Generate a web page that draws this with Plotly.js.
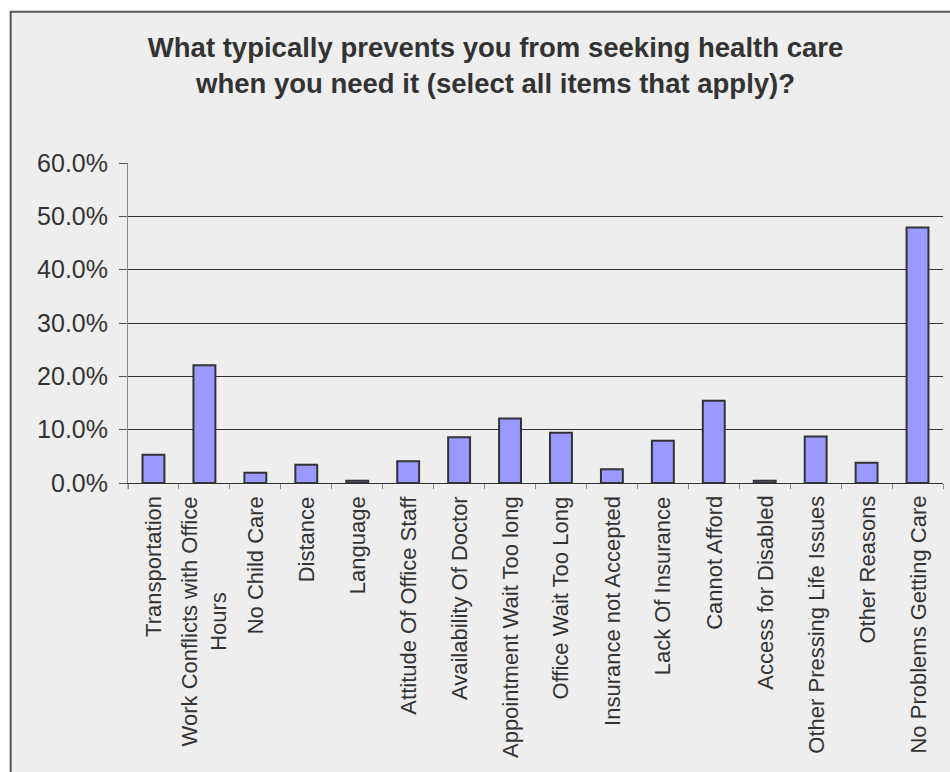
<!DOCTYPE html>
<html>
<head>
<meta charset="utf-8">
<script src="https://cdn.plot.ly/plotly-3.0.1.min.js"></script>
<style>
  html, body { margin: 0; padding: 0; background: #ffffff; }
  #chart { width: 950px; height: 772px; }
</style>
</head>
<body>
<div id="chart"></div>
<script>
const categories = [
  "Transportation",
  "Work Conflicts with Office<br>Hours",
  "No Child Care",
  "Distance",
  "Language",
  "Attitude Of Office Staff",
  "Availability Of Doctor",
  "Appointment Wait Too long",
  "Office Wait Too Long",
  "Insurance not Accepted",
  "Lack Of Insurance",
  "Cannot Afford",
  "Access for Disabled",
  "Other Pressing Life Issues",
  "Other Reasons",
  "No Problems Getting Care"
];
const percentValues = [5.3, 22.1, 1.9, 3.4, 0.4, 4.1, 8.6, 12.1, 9.4, 2.6, 7.9, 15.4, 0.4, 8.7, 3.8, 47.9];
const yTickValues = [0, 10, 20, 30, 40, 50, 60];
const yTickLabels = ["0.0%", "10.0%", "20.0%", "30.0%", "40.0%", "50.0%", "60.0%"];
const chartTitle = "What typically prevents you from seeking health care<br>when you need it (select all items that apply)?";

const trace = {
  type: "bar",
  x: categories,
  y: percentValues,
  marker: { color: "#9999ff", line: { color: "#333333", width: 2 } },
  hoverinfo: "x+y"
};

const L = 127.5, R = 943.5, T = 163.3, B = 483.3;
const W = 950, H = 772;
const pw = R - L, ph = B - T;

const labelAnnotations = categories.map(c => ({
  x: c, y: 0, xref: "x", yref: "y",
  text: c, showarrow: false,
  textangle: -90,
  xanchor: "center", yanchor: "top", align: "center",
  yshift: -11,
  font: { family: "Liberation Sans, Arial, sans-serif", size: 22, color: "#333333" }
}));

const layout = {
  width: W, height: H,
  margin: { l: L, r: W - R, t: T, b: H - B, pad: 0 },
  paper_bgcolor: "#ffffff",
  plot_bgcolor: "rgba(0,0,0,0)",
  font: { family: "Liberation Sans, Arial, sans-serif", color: "#333333" },
  showlegend: false,
  bargap: 0.57,
  title: {
    text: chartTitle,
    font: { family: "Liberation Sans, Arial, sans-serif", size: 27.5, color: "#333333", weight: "bold" },
    xref: "paper", x: (495.5 - L) / pw, xanchor: "center",
    yref: "container", y: 1 - 57 / H, yanchor: "top"
  },
  xaxis: {
    type: "category",
    showgrid: false,
    showline: true, linecolor: "#333333", linewidth: 1,
    ticks: "outside", tickson: "boundaries", ticklen: 5, tickcolor: "#888888", tickwidth: 1,
    showticklabels: false,
    zeroline: false,
    fixedrange: true
  },
  yaxis: {
    range: [0, 60],
    tickvals: yTickValues,
    ticktext: yTickLabels,
    showgrid: true, gridcolor: "#333333", gridwidth: 1,
    showline: true, linecolor: "#888888", linewidth: 1,
    ticks: "outside", ticklen: 8, tickcolor: "#555555", tickwidth: 1,
    tickfont: { size: 25, color: "#333333" },
    ticklabelstandoff: 6,
    zeroline: false,
    fixedrange: true
  },
  annotations: labelAnnotations,
  shapes: [{
    type: "rect", layer: "below",
    xref: "paper", yref: "paper",
    x0: (10 - L) / pw, x1: (960 - L) / pw,
    y0: (B - 790) / ph, y1: (B - 12) / ph,
    fillcolor: "#eeeeee",
    line: { color: "#555555", width: 2 }
  }, {
    type: "line", layer: "below",
    xref: "paper", yref: "paper",
    x0: 0, x1: 0, y0: 0, y1: -6 / ph,
    line: { color: "#888888", width: 1 }
  }]
};

Plotly.newPlot("chart", [trace], layout, { displayModeBar: false });
</script>
</body>
</html>
